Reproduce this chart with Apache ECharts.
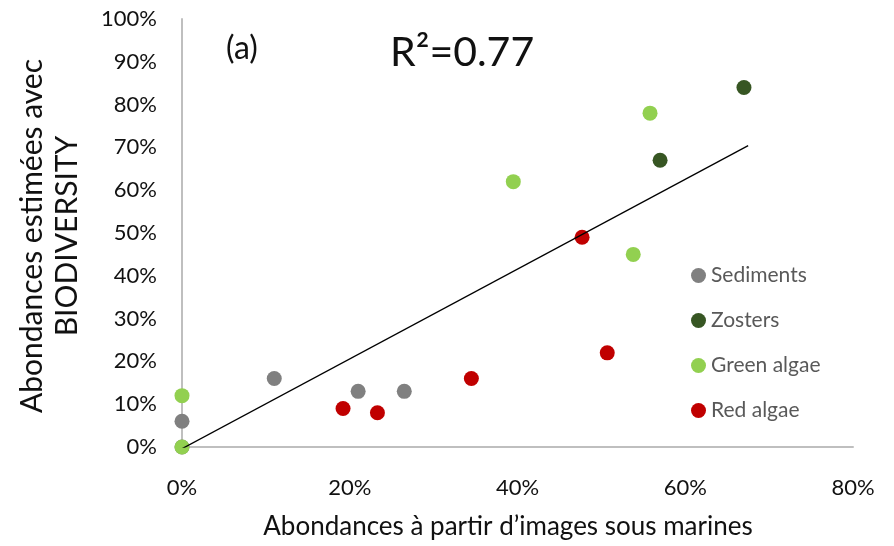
<!DOCTYPE html>
<html><head><meta charset="utf-8">
<script src="https://cdn.jsdelivr.net/npm/echarts@6/dist/echarts.min.js"></script>
<style>html,body{margin:0;padding:0;background:#fff}#c{width:894px;height:546px}</style>
</head><body><div id="c"></div>
<script>
const xTicks = [0, 20, 40, 60, 80];
const yTicks = [0, 10, 20, 30, 40, 50, 60, 70, 80, 90, 100];
const sediments = [[0, 0], [0, 6], [11, 16], [21, 13], [26.5, 13]];
const zosters = [[57, 67], [67, 84]];
const greenAlgae = [[0, 0], [0, 12], [39.5, 62], [55.8, 78], [53.8, 45]];
const redAlgae = [[19.2, 9], [23.3, 8], [34.5, 16], [47.7, 49], [50.7, 22]];
const trendline = [[0, -0.4], [67.5, 70.4]];
const seriesNames = ['Sediments', 'Zosters', 'Green algae', 'Red algae'];
const colors = ['#808080', '#375623', '#92D050', '#C00000'];

const font = 'Lato, "Open Sans", sans-serif';
const chart = echarts.init(document.getElementById('c'));
const mk = (name, data, color) => ({
  name, type: 'scatter', data, symbolSize: 15, itemStyle: { color, opacity: 1 }, z: 3
});
chart.setOption({
  animation: false,
  grid: { left: 182, right: 41, top: 19, bottom: 99 },
  xAxis: {
    type: 'value', min: xTicks[0], max: xTicks[xTicks.length - 1], interval: 20,
    axisLine: { show: true, lineStyle: { color: '#bfbfbf', width: 2 } },
    axisTick: { show: false }, splitLine: { show: false },
    axisLabel: { formatter: '{value}%', color: '#111', fontSize: 22, fontFamily: font, margin: 30 }
  },
  yAxis: {
    type: 'value', min: yTicks[0], max: yTicks[yTicks.length - 1], interval: 10,
    axisLine: { show: true, lineStyle: { color: '#bfbfbf', width: 2 } },
    axisTick: { show: false }, splitLine: { show: false },
    axisLabel: { formatter: '{value}%', color: '#111', fontSize: 22, fontFamily: font, margin: 25 }
  },
  legend: {
    data: seriesNames, orient: 'vertical', left: 686, top: 260, itemGap: 24,
    icon: 'circle', itemWidth: 15, itemHeight: 15,
    textStyle: { color: '#595959', fontSize: 21, lineHeight: 21, fontFamily: font }
  },
  series: [
    mk(seriesNames[0], sediments, colors[0]),
    mk(seriesNames[1], zosters, colors[1]),
    mk(seriesNames[2], greenAlgae, colors[2]),
    mk(seriesNames[3], redAlgae, colors[3]),
    { name: 'trend', type: 'line', data: trendline, symbol: 'none', z: 5,
      lineStyle: { color: '#000', width: 1.3 } }
  ],
  graphic: [
    { type: 'text', left: 226, top: 33, style: { text: '(a)', fontSize: 32, fontFamily: font, fill: '#111' } },
    { type: 'text', left: 390, top: 32, style: { text: 'R²=0.77', fontSize: 41, fontFamily: font, fill: '#111' } },
    { type: 'text', x: 508, y: 527, style: { text: 'Abondances à partir d\u2019images sous marines', fontSize: 26, fontFamily: font, fill: '#111', align: 'center', verticalAlign: 'middle' } },
    { type: 'text', x: 50, y: 236, rotation: Math.PI / 2, style: { text: 'Abondances estimées avec\nBIODIVERSITY', fontSize: 30, lineHeight: 35, fontFamily: font, fill: '#111', align: 'center', verticalAlign: 'middle' } }
  ]
});
</script></body></html>
